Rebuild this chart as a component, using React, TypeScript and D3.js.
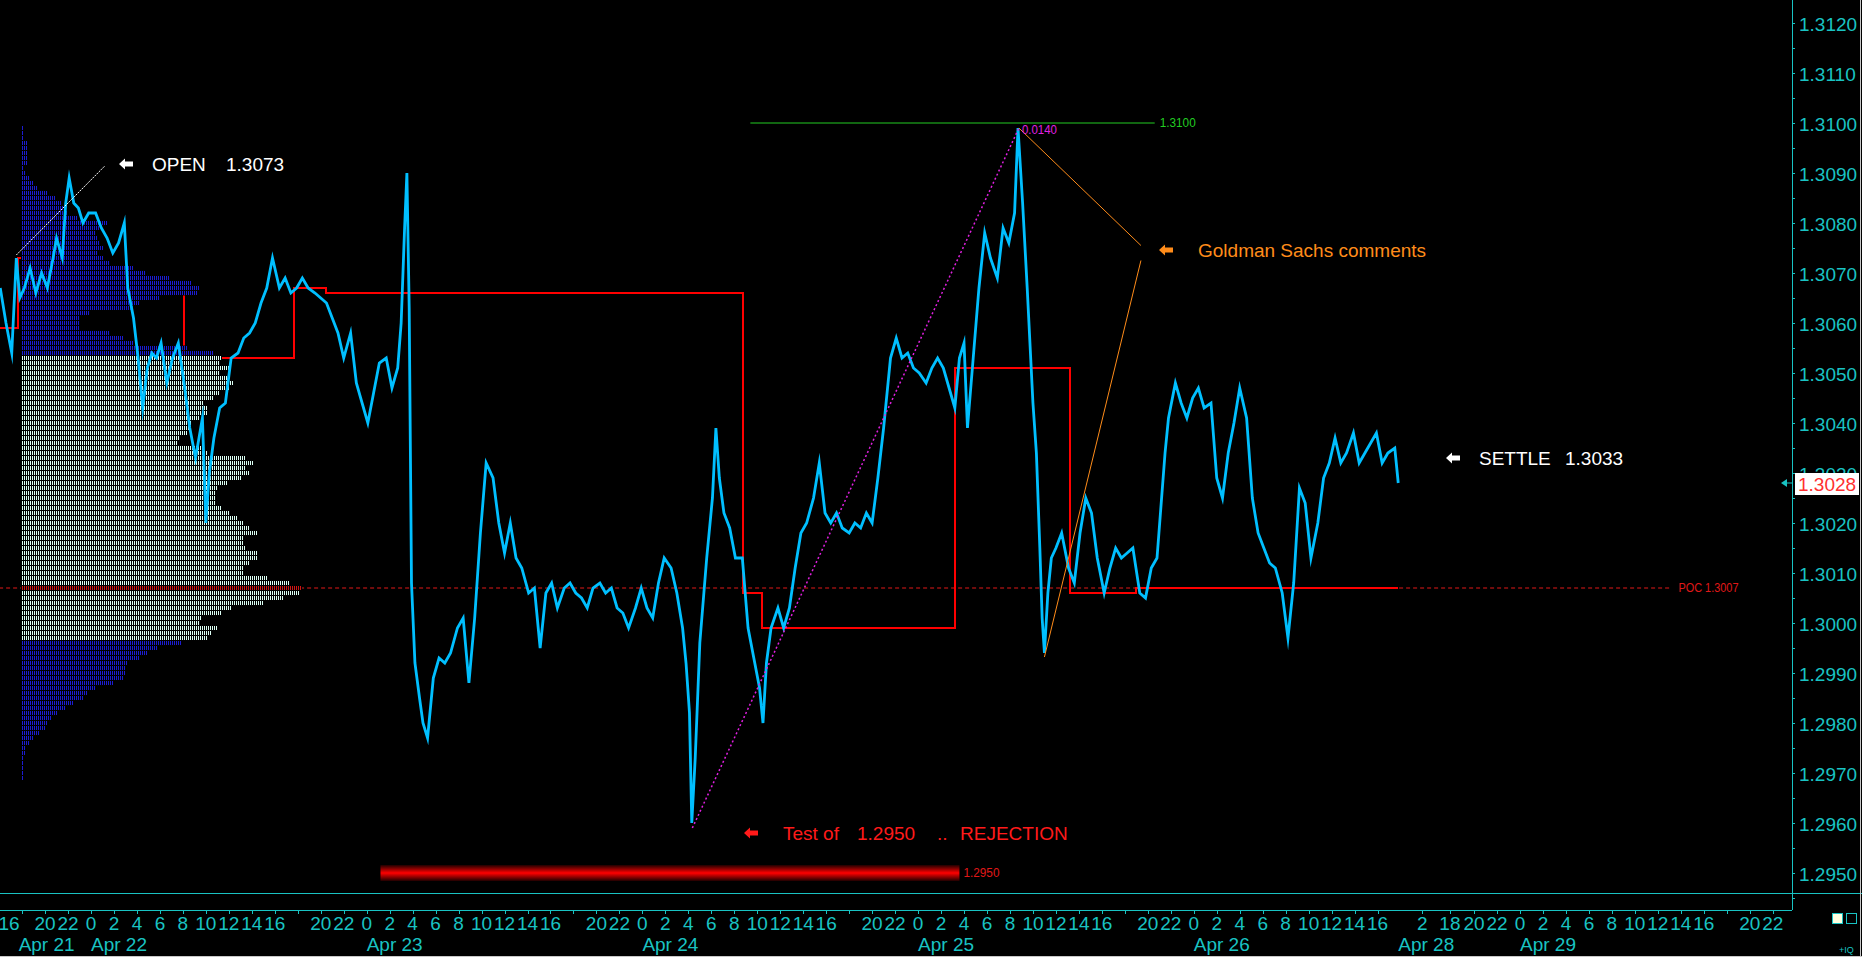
import * as d3 from "d3";

// time axis: hours since Apr 21 00:00, weekend compressed
const priceSeries: [number, number][] = [
  [16.1, 1.3067], [16.6, 1.306], [17.1, 1.3054], [17.5, 1.3073], [17.8, 1.3065], [18.2, 1.3067], [18.7, 1.3071],
  [19.2, 1.3066], [19.7, 1.307], [20.2, 1.3067], [20.7, 1.3073], [21.0, 1.3077], [21.5, 1.3073], [21.8, 1.3084],
  [22.1, 1.3089], [22.5, 1.3084], [22.9, 1.3083], [23.3, 1.308], [23.8, 1.3082], [24.4, 1.3082], [24.9, 1.3079],
  [25.4, 1.3077], [25.9, 1.3074], [26.4, 1.3076], [26.9, 1.308], [27.2, 1.3067], [27.7, 1.3061], [28.1, 1.3053],
  [28.5, 1.3043], [28.9, 1.3051], [29.3, 1.3054], [29.7, 1.3053], [30.1, 1.3056], [30.6, 1.3048], [31.1, 1.3053],
  [31.6, 1.3056], [32.1, 1.3048], [32.6, 1.3039], [33.1, 1.3033], [33.7, 1.3041], [34.0, 1.302], [34.3, 1.303],
  [34.7, 1.3037], [35.2, 1.3043], [35.7, 1.3044], [36.2, 1.3053], [36.8, 1.3054], [37.3, 1.3057], [37.8, 1.3058],
  [38.3, 1.306], [38.8, 1.3064], [39.3, 1.3067], [39.8, 1.3073], [40.4, 1.3067], [40.9, 1.3069], [41.4, 1.3066],
  [41.9, 1.3067], [42.4, 1.3069], [42.9, 1.3067], [43.5, 1.3066], [44.0, 1.3065], [44.5, 1.3064], [45.0, 1.3061],
  [45.5, 1.3058], [46.0, 1.3053], [46.6, 1.3058], [47.1, 1.3048], [47.6, 1.3044], [48.1, 1.304], [48.6, 1.3046],
  [49.1, 1.3052], [49.7, 1.3053], [50.2, 1.3047], [50.7, 1.3051], [51.0, 1.306], [51.3, 1.3079], [51.5, 1.309],
  [51.7, 1.3063], [51.9, 1.3008], [52.2, 1.2992], [52.6, 1.2985], [52.9, 1.298], [53.3, 1.2977], [53.8, 1.2989],
  [54.3, 1.2993], [54.8, 1.2992], [55.3, 1.2994], [55.9, 1.2999], [56.4, 1.3001], [56.9, 1.2988], [57.4, 1.3001],
  [57.9, 1.3018], [58.4, 1.3032], [59.0, 1.3029], [59.5, 1.302], [60.0, 1.3014], [60.5, 1.302], [61.0, 1.3013],
  [61.5, 1.3011], [62.1, 1.3006], [62.6, 1.3007], [63.1, 1.2995], [63.6, 1.3006], [64.1, 1.3008], [64.6, 1.3003],
  [65.2, 1.3007], [65.7, 1.3008], [66.2, 1.3006], [66.7, 1.3005], [67.2, 1.3003], [67.7, 1.3007], [68.3, 1.3008],
  [68.8, 1.3006], [69.3, 1.3007], [69.8, 1.3003], [70.3, 1.3002], [70.8, 1.2999], [71.4, 1.3003], [71.9, 1.3007],
  [72.4, 1.3003], [72.9, 1.3001], [73.4, 1.3008], [73.9, 1.3013], [74.5, 1.3011], [75.0, 1.3006], [75.5, 1.2999],
  [75.8, 1.2992], [76.1, 1.2982], [76.3, 1.296], [76.6, 1.2973], [77.0, 1.2996], [77.6, 1.3013], [78.1, 1.3025],
  [78.4, 1.3039], [78.7, 1.3029], [79.1, 1.3022], [79.6, 1.3019], [80.1, 1.3013], [80.7, 1.3013], [81.2, 1.2999],
  [81.7, 1.2993], [82.2, 1.2987], [82.5, 1.298], [82.8, 1.2992], [83.2, 1.2999], [83.8, 1.3003], [84.3, 1.2999],
  [84.8, 1.3003], [85.3, 1.3011], [85.8, 1.3018], [86.3, 1.302], [86.9, 1.3025], [87.4, 1.3032], [87.9, 1.3022],
  [88.4, 1.302], [88.9, 1.3022], [89.4, 1.3019], [90.0, 1.3018], [90.5, 1.302], [91.0, 1.3019], [91.5, 1.3022],
  [92.0, 1.302], [92.5, 1.3029], [93.0, 1.3039], [93.6, 1.3053], [94.1, 1.3057], [94.6, 1.3053], [95.1, 1.3054],
  [95.6, 1.3051], [96.1, 1.305], [96.7, 1.3048], [97.2, 1.3051], [97.7, 1.3053], [98.2, 1.3051], [98.7, 1.3047],
  [99.2, 1.3043], [99.6, 1.3053], [100.0, 1.3056], [100.3, 1.3039], [100.8, 1.3053], [101.3, 1.3067], [101.8, 1.3078],
  [102.3, 1.3073], [102.9, 1.3069], [103.4, 1.3079], [103.9, 1.3076], [104.4, 1.3082], [104.7, 1.3099], [105.1, 1.3084],
  [105.5, 1.3067], [106.0, 1.3044], [106.3, 1.3034], [106.6, 1.3015], [106.8, 1.3001], [107.0, 1.2994], [107.3, 1.3006],
  [107.6, 1.3013], [108.0, 1.3015], [108.5, 1.3018], [109.1, 1.3011], [109.6, 1.3008], [110.1, 1.3018], [110.6, 1.3025],
  [111.1, 1.3022], [111.6, 1.3013], [112.2, 1.3006], [112.7, 1.3011], [113.2, 1.3015], [113.7, 1.3013], [114.2, 1.3014],
  [114.7, 1.3015], [115.3, 1.3006], [115.8, 1.3005], [116.3, 1.3011], [116.8, 1.3013], [117.1, 1.3022], [117.5, 1.3034],
  [117.8, 1.3041], [118.4, 1.3048], [118.9, 1.3044], [119.4, 1.3041], [119.9, 1.3045], [120.4, 1.3047], [120.9, 1.3043],
  [121.5, 1.3044], [122.0, 1.3029], [122.5, 1.3025], [123.0, 1.3034], [123.5, 1.304], [124.0, 1.3047], [124.6, 1.3041],
  [125.1, 1.3025], [125.6, 1.3018], [126.1, 1.3015], [126.6, 1.3012], [127.1, 1.3011], [127.7, 1.3006], [128.2, 1.2997],
  [128.7, 1.3008], [129.2, 1.3027], [129.7, 1.3024], [130.2, 1.3013], [130.8, 1.302], [131.3, 1.3029], [131.8, 1.3032],
  [132.3, 1.3037], [132.8, 1.3032], [133.3, 1.3034], [133.9, 1.3038], [134.4, 1.3032], [134.9, 1.3034], [135.4, 1.3036],
  [135.9, 1.3038], [136.4, 1.3032], [136.9, 1.3034], [137.5, 1.3035], [137.8, 1.3028],
];

// volume profile, one row per pip from the top price downwards
const profileTop = 1.3099;
const profileVolumes = [
  3, 3, 3, 6, 6, 7, 7, 7, 3, 4, 9, 12, 16, 26, 34, 41, 44, 46, 57, 87,
  79, 74, 77, 79, 82, 77, 82, 89, 112, 124, 149, 171, 179, 176, 139, 119, 112, 69, 59, 59,
  59, 89, 102, 112, 167, 192,
  201, 198, 209, 199, 209, 212, 209, 199, 192, 182, 186, 187, 179, 171, 169, 166, 159, 157, 182, 186,
  225, 233, 225, 229, 221, 206, 196, 195, 194, 195, 201, 209, 217, 223, 229, 237, 223, 223, 225, 237,
  236, 229, 223, 222, 247, 269, 281, 279, 263, 243, 211, 201, 181, 179, 197, 191, 187,
  161, 137, 127, 119, 107, 105, 105, 103, 93, 75, 67, 63, 53, 45, 37, 31, 26, 25, 19, 13,
  9, 5, 5, 3, 3, 3, 3, 3, 1, 1, 1, 1, 1, 1, 1, 1, 1, 1, 1,
];
const valueAreaHigh = 1.3053;
const valueAreaLow = 1.2997;
const pocPrice = 1.3007;
const pocLineEnd = 161.5;

// session POC steps [start hour, price]
const sessionPoc: [number, number][] = [
  [16, 1.3059], [17.68, 1.3073], [18.25, 1.3066], [32.1, 1.3053], [41.67, 1.3067], [44.46, 1.3066],
  [80.73, 1.3006], [82.41, 1.2999], [99.2, 1.3051], [109.19, 1.3006], [114.97, 1.3007],
];
const sessionPocEnd = 137.78;

const priceTicks = [1.295, 1.296, 1.297, 1.298, 1.299, 1.3, 1.301, 1.302, 1.303, 1.304, 1.305, 1.306, 1.307, 1.308, 1.309, 1.31, 1.311, 1.312];
const lastPrice = 1.3028;

const hourLabels = [0, 2, 4, 6, 8, 10, 12, 14, 16, 18, 20, 22];
const axisDays = [
  { label: "Apr 21", t0: 0, labelT: 17.7, hours: [16, 18, 20, 22] },
  { label: "Apr 22", t0: 24, labelT: 24, hours: hourLabels },
  { label: "Apr 23", t0: 48, labelT: 48, hours: hourLabels },
  { label: "Apr 24", t0: 72, labelT: 72, hours: hourLabels },
  { label: "Apr 25", t0: 96, labelT: 96, hours: hourLabels },
  { label: "Apr 26", t0: 120, labelT: 120, hours: [0, 2, 4, 6, 8, 10, 12, 14, 16] },
  { label: "Apr 29", t0: 148.4, labelT: 148.4, hours: hourLabels },
];
const apr28Ticks: [number, string][] = [[139.9, "2"], [142.3, "18"], [144.4, "20"], [146.4, "22"]];
const apr28LabelT = 137.8;

// drawn studies
const openLine: [number, number][] = [[17.5, 1.30736], [25.2, 1.30914]];
const rangeLine: [number, number][] = [[76.35, 1.2959], [104.78, 1.3099]];
const gsLineA: [number, number][] = [[104.78, 1.3099], [115.4, 1.30755]];
const gsLineB: [number, number][] = [[115.4, 1.30725], [107.0, 1.29932]];
const level1310 = { t0: 81.4, t1: 116.6, price: 1.31 };
const level1295 = { t0: 49.2, t1: 99.6, price: 1.295 };

const CYAN = "#19c3c3";
const FONT = "'Liberation Sans', Arial, sans-serif";

const x = d3.scaleLinear().domain([24, 148.4]).range([91, 1520]);
const y = d3.scaleLinear().domain([1.295, 1.312]).range([873, 23]);
const vx = d3.scaleLinear().domain([0, 300]).range([21, 321]);

const Arrow = ({ x0, yc, color }: { x0: number; yc: number; color: string }) => (
  <path
    d={`M${x0},${yc} L${x0 + 6},${yc - 5.5} L${x0 + 6},${yc - 2.5} L${x0 + 14},${yc - 2.5} L${x0 + 14},${yc + 2.5} L${x0 + 6},${yc + 2.5} L${x0 + 6},${yc + 5.5} Z`}
    fill={color}
  />
);

export default function App() {
  const line = d3.line<[number, number]>((d) => x(d[0]), (d) => y(d[1]));
  const stepLine = d3
    .line<[number, number]>((d) => x(d[0]), (d) => y(d[1]))
    .curve(d3.curveStepAfter);
  const pocSteps: [number, number][] = [...sessionPoc, [sessionPocEnd, sessionPoc[sessionPoc.length - 1][1]]];

  const rows = profileVolumes.map((v, i) => {
    const price = +(profileTop - i * 0.0001).toFixed(4);
    let fill = "url(#stBlue)";
    if (price <= valueAreaHigh + 1e-9 && price >= valueAreaLow - 1e-9) fill = "url(#stWhite)";
    if (Math.abs(price - pocPrice) < 1e-9) fill = "url(#stRed)";
    return { price, v, fill };
  });

  const minorTicks = d3.range(1.2945, 1.3126, 0.0005);

  const hourTicks: { t: number; label: string }[] = [];
  axisDays.forEach((d) => d.hours.forEach((h) => hourTicks.push({ t: d.t0 + h, label: h === 18 ? "" : String(h) })));
  apr28Ticks.forEach(([t, label]) => hourTicks.push({ t, label }));
  const dateLabels = [...axisDays.map((d) => ({ t: d.labelT, label: d.label })), { t: apr28LabelT, label: "Apr 28" }];

  const axisX = 1792;

  return (
    <svg
      width={1862}
      height={957}
      style={{ position: "absolute", left: 0, top: 0, background: "#000" }}
      fontFamily={FONT}
    >
      <defs>
        <pattern id="stBlue" width="2" height="5" patternUnits="userSpaceOnUse">
          <rect width="1" height="5" fill="#1c1cd0" />
        </pattern>
        <pattern id="stWhite" width="2" height="5" patternUnits="userSpaceOnUse">
          <rect width="1" height="5" fill="#dcfff4" />
        </pattern>
        <pattern id="stRed" width="2" height="5" patternUnits="userSpaceOnUse">
          <rect width="1" height="5" fill="#d01414" />
        </pattern>
        <linearGradient id="barGrad" x1="0" y1="0" x2="0" y2="1">
          <stop offset="0" stopColor="#200000" />
          <stop offset="0.5" stopColor="#ff0000" />
          <stop offset="1" stopColor="#200000" />
        </linearGradient>
      </defs>
      <rect width={1862} height={957} fill="#000" />

      {/* POC dashed line */}
      <line
        x1={x(16)}
        x2={x(pocLineEnd)}
        y1={y(pocPrice)}
        y2={y(pocPrice)}
        stroke="#e01818"
        strokeDasharray="4 3"
        strokeWidth={1}
      />
      <text x={x(pocLineEnd) + 8} y={y(pocPrice) + 4} fill="#e01818" fontSize={12} textLength={60} lengthAdjust="spacingAndGlyphs">
        POC 1.3007
      </text>

      {/* session POC steps */}
      <path d={stepLine(pocSteps) ?? ""} fill="none" stroke="#ff0000" strokeWidth={2} shapeRendering="crispEdges" />

      {/* volume profile */}
      {rows.map((r) => (
        <g key={r.price}>
          <rect x={vx(0)} y={y(r.price) - 2.5} width={vx(r.v) - vx(0)} height={5} fill="#000" />
          <rect x={vx(0)} y={y(r.price) - 2} width={vx(r.v) - vx(0)} height={4} fill={r.fill} />
        </g>
      ))}

      {/* 1.3100 level */}
      <line x1={x(level1310.t0)} x2={x(level1310.t1)} y1={y(level1310.price)} y2={y(level1310.price)} stroke="#22cc22" strokeWidth={1} />
      <text x={x(level1310.t1) + 5} y={y(level1310.price) + 4} fill="#22cc22" fontSize={12} textLength={36} lengthAdjust="spacingAndGlyphs">
        1.3100
      </text>

      {/* 1.2950 level bar */}
      <rect
        x={x(level1295.t0)}
        y={y(level1295.price) - 8}
        width={x(level1295.t1) - x(level1295.t0)}
        height={16}
        fill="url(#barGrad)"
      />
      <text x={x(level1295.t1) + 4} y={y(level1295.price) + 4} fill="#e01818" fontSize={12} textLength={36} lengthAdjust="spacingAndGlyphs">
        1.2950
      </text>

      {/* price */}
      <path
        d={line(priceSeries) ?? ""}
        fill="none"
        stroke="#00bfff"
        strokeWidth={2.8}
        strokeLinejoin="miter"
        strokeMiterlimit={10}
      />

      {/* studies */}
      <path d={line(openLine) ?? ""} stroke="#ffffff" strokeWidth={1} strokeDasharray="2 1" />
      <path d={line(rangeLine) ?? ""} stroke="#e020e0" strokeWidth={1.5} strokeDasharray="2 2.5" />
      <path d={line(gsLineA) ?? ""} stroke="#ff8c1a" strokeWidth={1} />
      <path d={line(gsLineB) ?? ""} stroke="#ff8c1a" strokeWidth={1} />
      <text x={x(rangeLine[1][0]) + 3} y={y(rangeLine[1][1]) + 6} fill="#e020e0" fontSize={12} textLength={35} lengthAdjust="spacingAndGlyphs">
        0.0140
      </text>

      {/* annotations */}
      <g fontSize={19}>
        <Arrow x0={119} yc={164} color="#ffffff" />
        <text x={152} y={171} fill="#ffffff">OPEN</text>
        <text x={226} y={171} fill="#ffffff">1.3073</text>

        <Arrow x0={1159} yc={250} color="#ff8c1a" />
        <text x={1198} y={257} fill="#ff8c1a">Goldman Sachs comments</text>

        <Arrow x0={1446} yc={458} color="#ffffff" />
        <text x={1479} y={465} fill="#ffffff">SETTLE</text>
        <text x={1565} y={465} fill="#ffffff">1.3033</text>

        <Arrow x0={744} yc={833} color="#ff1a1a" />
        <text x={783} y={840} fill="#ff1a1a">Test of</text>
        <text x={857} y={840} fill="#ff1a1a">1.2950</text>
        <text x={937} y={840} fill="#ff1a1a">..</text>
        <text x={960} y={840} fill="#ff1a1a">REJECTION</text>
      </g>

      {/* right price axis */}
      <line x1={axisX + 0.5} x2={axisX + 0.5} y1={0} y2={910} stroke={CYAN} />
      {minorTicks.map((p) => (
        <line key={p} x1={axisX} x2={axisX + 3} y1={Math.round(y(p)) + 0.5} y2={Math.round(y(p)) + 0.5} stroke={CYAN} />
      ))}
      {priceTicks.map((p) => (
        <text key={p} x={axisX + 7} y={y(p) + 8} fill={CYAN} fontSize={19}>
          {p.toFixed(4)}
        </text>
      ))}
      <rect x={1795} y={y(lastPrice) - 10} width={64} height={22} fill="#ffffff" />
      <text x={1798} y={y(lastPrice) + 8} fill="#ff3030" fontSize={19}>
        {lastPrice.toFixed(4)}
      </text>
      <path
        d={`M${axisX - 11},${y(lastPrice)} L${axisX - 5},${y(lastPrice) - 4} L${axisX - 5},${y(lastPrice) + 4} Z M${axisX - 5},${y(lastPrice) - 0.5} h5 v1 h-5 Z`}
        fill={CYAN}
      />

      {/* bottom time axis */}
      <line x1={0} x2={1862} y1={893.5} y2={893.5} stroke={CYAN} />
      <line x1={0} x2={axisX} y1={910.5} y2={910.5} stroke={CYAN} />
      {hourTicks.map((tk, i) => (
        <g key={i}>
          <line x1={Math.round(x(tk.t)) + 0.5} x2={Math.round(x(tk.t)) + 0.5} y1={910} y2={914} stroke={CYAN} />
          {tk.label && (
            <text x={Math.max(x(tk.t), 9)} y={930} fill={CYAN} fontSize={19} textAnchor="middle">
              {tk.label}
            </text>
          )}
        </g>
      ))}
      {dateLabels.map((d) => (
        <text key={d.label} x={x(d.t)} y={951} fill={CYAN} fontSize={19}>
          {d.label}
        </text>
      ))}

      {/* corner widgets */}
      <rect x={1832.5} y={913.5} width={10} height={10} fill="#ffffe0" stroke={CYAN} />
      <rect x={1846.5} y={913.5} width={10} height={10} fill="none" stroke={CYAN} />
      <text x={1839} y={953} fill={CYAN} fontSize={9}>+IQ</text>
      <line x1={1860.5} x2={1860.5} y1={0} y2={957} stroke="#c8c8c8" />
      <line x1={0} x2={1862} y1={956.5} y2={956.5} stroke="#c8c8c8" />
    </svg>
  );
}
